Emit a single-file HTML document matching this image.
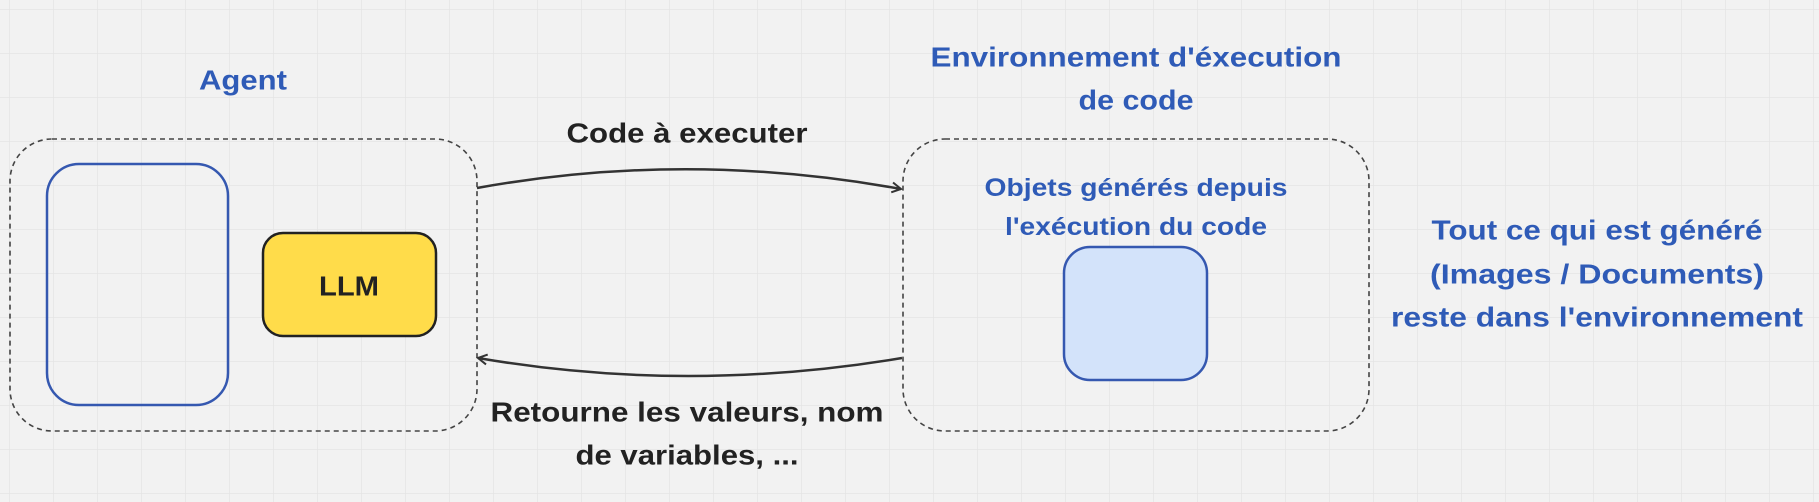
<!DOCTYPE html>
<html><head><meta charset="utf-8"><style>
html,body{margin:0;padding:0;background:#f2f2f2;}
svg{display:block;}
text{font-family:"Liberation Sans",sans-serif;font-weight:bold;}
</style></head><body>
<svg width="1819" height="502" viewBox="0 0 1819 502" xmlns="http://www.w3.org/2000/svg">
<defs>
<pattern id="g" x="9" y="9" width="44" height="44" patternUnits="userSpaceOnUse">
<path d="M0 0H44M0 0V44" stroke="#e4e4e4" stroke-width="1.5" fill="none"/>
</pattern>
<marker id="ah" markerWidth="12" markerHeight="12" refX="10" refY="6" orient="auto" markerUnits="userSpaceOnUse">
<path d="M1 1L10 6L1 11" fill="none" stroke="#333" stroke-width="2"/>
</marker>
</defs>
<rect width="1819" height="502" fill="#f2f2f2"/>
<rect width="1819" height="502" fill="url(#g)"/>

<rect x="10" y="139" width="467" height="292" rx="42" fill="none" stroke="#444" stroke-width="1.6" stroke-dasharray="5,4"/>
<rect x="903" y="139" width="466" height="292" rx="42" fill="none" stroke="#444" stroke-width="1.6" stroke-dasharray="5,4"/>

<rect x="47" y="164" width="181" height="241" rx="32" fill="none" stroke="#3558B0" stroke-width="2.5"/>
<rect x="263" y="233" width="173" height="103" rx="20" fill="#FFDC4A" stroke="#222" stroke-width="2.5"/>
<text x="349" y="286" text-anchor="middle" dominant-baseline="central" font-size="28" fill="#222" textLength="60" lengthAdjust="spacingAndGlyphs">LLM</text>

<rect x="1064" y="247" width="143" height="133" rx="26" fill="#D3E3FA" stroke="#3558B0" stroke-width="2.5"/>

<path d="M477 188 Q687 150 901 189" fill="none" stroke="#333" stroke-width="2.5" marker-end="url(#ah)"/>
<path d="M902 358 Q687 394 478 358" fill="none" stroke="#333" stroke-width="2.5" marker-end="url(#ah)"/>

<g fill="#2F5BB7" font-size="28" text-anchor="middle" dominant-baseline="central">
<text x="243" y="80" textLength="88" lengthAdjust="spacingAndGlyphs">Agent</text>
<text x="1136" y="57" textLength="411" lengthAdjust="spacingAndGlyphs">Environnement d'éxecution</text>
<text x="1136" y="100" textLength="115" lengthAdjust="spacingAndGlyphs">de code</text>
<text x="1136" y="188" font-size="25" textLength="303" lengthAdjust="spacingAndGlyphs">Objets générés depuis</text>
<text x="1136" y="227" font-size="25" textLength="262" lengthAdjust="spacingAndGlyphs">l'exécution du code</text>
<text x="1597" y="230" textLength="331" lengthAdjust="spacingAndGlyphs">Tout ce qui est généré</text>
<text x="1597" y="274" textLength="334" lengthAdjust="spacingAndGlyphs">(Images / Documents)</text>
<text x="1597" y="317" textLength="412" lengthAdjust="spacingAndGlyphs">reste dans l'environnement</text>
</g>
<g fill="#222" font-size="28" text-anchor="middle" dominant-baseline="central">
<text x="687" y="133" textLength="241" lengthAdjust="spacingAndGlyphs">Code à executer</text>
<text x="687" y="412" textLength="393" lengthAdjust="spacingAndGlyphs">Retourne les valeurs, nom</text>
<text x="687" y="455" textLength="223" lengthAdjust="spacingAndGlyphs">de variables, ...</text>
</g>
</svg>
</body></html>
